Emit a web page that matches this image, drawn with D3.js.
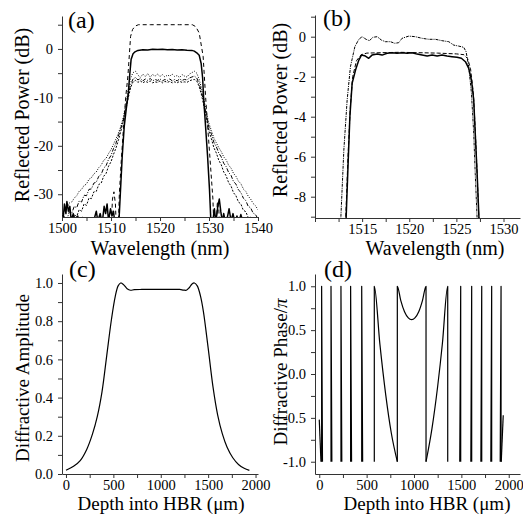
<!DOCTYPE html>
<meta charset="utf-8">
<style>
body { margin: 0; background: #fff; }
svg { display: block; }
.domain, .tick line { stroke: #333; }
</style>
<body>
<script src="https://d3js.org/d3.v7.min.js"></script>
<script>

// ---- (a) reflected power vs wavelength ----
// dashed: design spectrum
var lamSim = [1509.9, 1510.3, 1510.6, 1510.9, 1511.2, 1511.4, 1511.7, 1512.1, 1512.5, 1513.0, 1513.45, 1514.0, 1514.4, 1514.9, 1515.6,
  1518, 1521, 1524, 1526.6, 1527.3, 1528.0, 1528.8, 1529.3, 1529.8, 1530.3, 1530.8, 1531.1, 1531.4, 1531.7, 1532.0, 1532.3];
var dbSim = [-40, -31, -29.5, -32, -40, -40, -30, -23, -17, -10, -5.6, 2.6, 4.0, 4.7, 5.0,
  5.0, 5.0, 5.0, 5.0, 4.6, 3.3, -1.5, -9.8, -17, -24, -31, -40, -40, -31.5, -33, -40];

// solid: measured grating
var lamSolid = [1500.2, 1500.5, 1500.8, 1501.0, 1501.3, 1501.6, 1501.9, 1502.3, 1502.7, 1503.2, 1503.6, 1504.2, 1504.8, 1505.4, 1506, 1506.6,
  1507.0, 1507.3, 1507.8, 1508.2, 1508.6, 1508.9, 1509.2, 1509.5, 1509.9, 1510.2, 1510.5, 1510.8, 1511.2, 1511.6, 1511.9, 1512.3,
  1512.7, 1513.1, 1513.5, 1513.8, 1514.1, 1514.5, 1514.9, 1515.5, 1516.5, 1517.5, 1518.5, 1519.5, 1520.5, 1521.5, 1522.5, 1523.5,
  1524.5, 1525.5, 1526.5, 1527.0, 1527.5, 1528.0, 1528.4, 1528.7, 1528.9, 1529.3, 1529.7, 1530.1, 1530.4, 1530.8, 1531.1, 1531.4,
  1531.8, 1532.1, 1532.4, 1532.7, 1533.0, 1533.4, 1533.8, 1534.1, 1534.5, 1534.9, 1535.3, 1535.7, 1536.1, 1536.5, 1537, 1537.5,
  1538, 1538.5, 1539, 1539.5, 1540];
var dbSolid = [-35.5, -32, -34, -31.5, -33.5, -32.5, -35.5, -34, -35.5, -34.5, -36, -34.8, -36, -35.2, -36, -35,
  -33.5, -35.5, -34, -36, -32.5, -34, -32, -35.5, -33, -34.5, -33.5, -36, -35.5, -36, -30, -22,
  -16, -12.5, -9.5, -5.6, -2.2, -1.0, -0.6, -0.3, -0.15, -0.2, -0.05, -0.1, -0.05, -0.15, -0.1, -0.2,
  -0.15, -0.25, -0.3, -0.45, -0.8, -1.3, -3.0, -6, -10, -16, -22, -29, -36, -35.5, -33, -35.8,
  -32.5, -31, -33.5, -35.6, -34, -36, -34.5, -33, -35.5, -34, -36, -34.5, -35.8, -34.2, -36, -35,
  -36, -34.8, -36, -35.2, -36];

// dotted family: repeated measurements (shared wavelength grid)
var lamMeas = [1500, 1500.5, 1501, 1501.5, 1502, 1502.5, 1503, 1503.5, 1504, 1504.5, 1505, 1505.5, 1506, 1506.5, 1507, 1507.5,
  1508, 1508.5, 1509, 1509.5, 1510, 1510.5, 1511, 1511.5, 1512, 1512.5, 1513, 1513.5, 1514, 1514.5, 1515, 1515.5,
  1516, 1516.5, 1517, 1517.5, 1518, 1518.5, 1519, 1519.5, 1520, 1520.5, 1521, 1521.5, 1522, 1522.5, 1523, 1523.5,
  1524, 1524.5, 1525, 1525.5, 1526, 1526.5, 1527, 1527.5, 1528, 1528.5, 1529, 1529.5, 1530, 1530.5, 1531, 1531.5,
  1532, 1532.5, 1533, 1533.5, 1534, 1534.5, 1535, 1535.5, 1536, 1536.5, 1537, 1537.5, 1538, 1538.5, 1539, 1539.5, 1540];
var dbMeas1 = [-34.5, -33.4, -33.0, -31.8, -31.6, -30.8, -30.3, -29.4, -29.0, -28.2, -27.9, -26.9, -26.6, -25.8, -25.4, -24.5,
  -24.0, -23.0, -22.6, -21.6, -20.8, -19.7, -18.6, -17.4, -16.0, -14.2, -11.5, -8.6, -6.0, -4.9, -4.6, -5.4,
  -5.9, -5.2, -5.7, -5.1, -5.8, -5.3, -5.6, -5.2, -5.7, -5.3, -5.8, -5.4, -5.6, -5.2, -5.7, -5.5,
  -5.9, -5.3, -5.6, -5.8, -5.2, -4.9, -4.6, -5.0, -6.3, -8.2, -10.6, -13.2, -15.4, -16.9, -18.4, -19.4,
  -20.4, -21.2, -22.3, -22.9, -24.0, -24.6, -25.7, -26.3, -27.3, -27.8, -28.9, -29.4, -30.4, -31.0, -31.9, -32.4, -33.2];
var dbMeas2 = [-35.8, -34.6, -35.2, -33.6, -33.9, -32.5, -32.8, -31.4, -31.6, -30.2, -30.3, -29.0, -28.9, -27.7, -27.5, -26.3,
  -25.9, -24.6, -24.1, -22.8, -22.0, -20.6, -19.5, -18.0, -16.4, -14.6, -12.2, -9.6, -7.4, -6.2, -5.9, -6.4,
  -6.1, -6.6, -6.2, -6.5, -6.1, -6.6, -6.3, -6.5, -6.2, -6.6, -6.3, -6.5, -6.2, -6.6, -6.3, -6.6,
  -6.2, -6.5, -6.3, -6.4, -6.0, -5.8, -5.6, -6.0, -7.2, -9.0, -11.4, -13.9, -16.2, -17.6, -19.3, -20.2,
  -21.5, -22.3, -23.6, -24.3, -25.5, -26.1, -27.4, -27.9, -29.1, -29.6, -30.8, -31.3, -32.5, -32.8, -33.9, -34.2, -35.1];
var dbMeas3 = [-36, -35.5, -36, -35.0, -35.6, -34.2, -34.6, -33.2, -33.5, -32.0, -32.3, -30.8, -30.9, -29.5, -29.4, -28.0,
  -27.7, -26.3, -25.7, -24.2, -23.3, -21.8, -20.5, -18.9, -17.0, -15.0, -12.6, -10.2, -8.0, -6.8, -6.5, -6.9,
  -6.6, -7.0, -6.7, -6.9, -6.6, -7.0, -6.8, -6.9, -6.6, -7.0, -6.7, -6.9, -6.7, -7.0, -6.8, -7.0,
  -6.7, -6.9, -6.8, -6.9, -6.6, -6.4, -6.3, -6.6, -7.8, -9.6, -12.0, -14.5, -17.0, -18.6, -20.4, -21.5,
  -23.0, -23.9, -25.4, -26.2, -27.6, -28.3, -29.7, -30.3, -31.6, -32.0, -33.3, -33.6, -34.8, -35.0, -35.9, -35.6, -36.2];

// ---- (b) close-up of the pass band ----
var lamBDot = [1512.65, 1512.74, 1513.06, 1513.41, 1513.76, 1514.23, 1514.65, 1515.0, 1515.42, 1515.78, 1516.13, 1516.6, 1517.05,
  1517.47, 1518.0, 1518.46, 1518.88, 1519.24, 1519.95, 1520.65, 1521.36, 1522.07, 1522.78, 1523.48, 1524.19, 1524.72,
  1525.25, 1525.78, 1526.03, 1526.31, 1526.6, 1526.84, 1527.0, 1527.2, 1527.25];
var dbBDot = [-10.5, -9.08, -5.67, -3.17, -1.5, -0.5, -0.13, 0, -0.13, -0.2, -0.03, 0, -0.17,
  -0.25, -0.25, -0.33, -0.3, -0.08, 0.03, 0, -0.08, -0.13, -0.13, -0.2, -0.25, -0.42,
  -0.47, -0.53, -0.75, -1.5, -2.83, -4.83, -6.83, -9.1, -10.5];
var lamBDash = [1513.15, 1513.5, 1513.75, 1514.0, 1514.4, 1514.9, 1515.5, 1517, 1519, 1521, 1523, 1525, 1525.8, 1526.2,
  1526.5, 1526.8, 1527.0, 1527.2, 1527.5];
var dbBDash = [-10.5, -6, -3.5, -2.0, -1.2, -0.9, -0.82, -0.8, -0.78, -0.8, -0.82, -0.86, -0.9, -1.1,
  -1.6, -2.8, -4.6, -6.8, -10.5];
var lamBSolid = [1513.25, 1513.3, 1513.5, 1513.7, 1513.94, 1514.3, 1514.65, 1514.93, 1515.35, 1515.7, 1516.05, 1516.6, 1517.12,
  1517.65, 1518.18, 1518.7, 1519.24, 1519.77, 1520.3, 1520.83, 1521.36, 1521.9, 1522.43, 1522.96, 1523.48, 1524.01,
  1524.54, 1525.07, 1525.53, 1525.96, 1526.31, 1526.6, 1526.84, 1527.0, 1527.2, 1527.4, 1527.45];
var dbBSolid = [-10.5, -9.08, -6.5, -4.0, -2.33, -1.67, -1.17, -0.92, -0.97, -1.08, -0.92, -0.87, -0.92,
  -0.83, -0.8, -0.83, -0.8, -0.83, -0.8, -0.87, -0.92, -0.97, -0.92, -0.97, -0.92, -0.97,
  -1.0, -1.03, -1.08, -1.25, -1.58, -2.17, -3.17, -4.83, -6.83, -9.1, -10.5];

// ---- (c) diffractive amplitude vs depth ----
var depthC = [0, 80, 150, 220, 280, 330, 380, 430, 480, 520, 550, 577, 610, 645, 680, 720, 800, 900, 1000, 1100,
  1200, 1240, 1270, 1300, 1330, 1355, 1385, 1420, 1450, 1500, 1550, 1600, 1650, 1700, 1760, 1820, 1880, 1935];
var ampC = [0.02, 0.04, 0.07, 0.13, 0.21, 0.30, 0.43, 0.62, 0.81, 0.93, 0.985, 1.0, 0.99, 0.97, 0.962, 0.965, 0.966, 0.966, 0.966, 0.966,
  0.966, 0.963, 0.962, 0.975, 0.995, 1.0, 0.985, 0.93, 0.85, 0.66, 0.46, 0.31, 0.21, 0.14, 0.085, 0.05, 0.03, 0.019];

// ---- (d) diffractive phase / pi, wrapped, one array per drawn piece ----
var phasePieces = [
  [[0, -0.52], [18, -1]],
  [[25, -1], [25, 1], [34, -1]],
  [[124, -1], [124, 1], [133, -1]],
  [[229, -1], [229, 1], [238, -1]],
  [[331, -1], [331, 1], [341, -1]],
  [[448, -1], [448, 1], [458, -1]],
  [[581, -1], [581, 1], [640, 0.34], [702, -0.24], [760, -0.67], [824, -1]],
  [[824, -1], [824, 1], [860, 0.84], [900, 0.71], [940, 0.64], [975, 0.62], [1010, 0.64], [1050, 0.71], [1090, 0.84], [1127, 1], [1127, -1]],
  [[1127, -1], [1190, -0.62], [1250, -0.14], [1300, 0.35], [1356, 1], [1356, -1]],
  [[1483, -1], [1493, 1], [1493, -1]],
  [[1600, -1], [1609, 1], [1609, -1]],
  [[1706, -1], [1715, 1], [1715, -1]],
  [[1811, -1], [1820, 1], [1820, -1]],
  [[1910, -1], [1919, 1], [1919, -1]],
  [[1921, -1], [1942, -0.47]]
];

var SERIF = "'Liberation Serif', 'Times New Roman', serif";

var svg = d3.select("body").append("svg")
  .attr("width", 523)
  .attr("height", 521)
  .style("font-family", SERIF);

function fmtInt(d) { return String(d); }
function fmt1(d) { return d.toFixed(1); }

function styleText(sel, size) {
  sel.attr("font-family", null).attr("font-size", null)
    .style("font-family", SERIF)
    .style("font-size", size + "px")
    .style("fill", "#000");
}

function panel(cfg) {
  var x = d3.scaleLinear().domain(cfg.xDom).range(cfg.xRange);
  var y = d3.scaleLinear().domain(cfg.yDom).range(cfg.yRange);
  var g = svg.append("g");
  var yb = cfg.yRange[0], xl = cfg.xRange[0];

  svg.append("clipPath").attr("id", "clip-" + cfg.name)
    .append("rect")
    .attr("x", xl).attr("y", cfg.yRange[1])
    .attr("width", cfg.xRange[1] - xl)
    .attr("height", yb - cfg.yRange[1]);

  // minor ticks + axis line, then labelled ticks
  g.append("g").attr("transform", "translate(0," + yb + ")")
    .call(d3.axisBottom(x).tickValues(cfg.xMinor).tickFormat("").tickSize(4).tickSizeOuter(0));
  g.append("g").attr("transform", "translate(0," + yb + ")")
    .call(d3.axisBottom(x).tickValues(cfg.xMajor).tickFormat(cfg.xFmt).tickSize(4).tickPadding(2).tickSizeOuter(0))
    .call(function(a) { a.select(".domain").remove(); });
  g.append("g").attr("transform", "translate(" + xl + ",0)")
    .call(d3.axisLeft(y).tickValues(cfg.yMinor).tickFormat("").tickSize(4).tickSizeOuter(0));
  g.append("g").attr("transform", "translate(" + xl + ",0)")
    .call(d3.axisLeft(y).tickValues(cfg.yMajor).tickFormat(cfg.yFmt).tickSize(4).tickPadding(5).tickSizeOuter(0))
    .call(function(a) { a.select(".domain").remove(); });
  g.selectAll("g").attr("font-family", null).attr("font-size", null);
  styleText(g.selectAll(".tick text"), 14.5);

  var ts = cfg.titleSize || 19;
  styleText(g.append("text")
    .attr("text-anchor", "middle")
    .attr("x", cfg.xTitlePos[0]).attr("y", cfg.xTitlePos[1])
    .text(cfg.xTitle), ts);
  var yt = g.append("text")
    .attr("text-anchor", "middle")
    .attr("transform", "translate(" + cfg.yTitlePos[0] + "," + cfg.yTitlePos[1] + ") rotate(-90)")
    .text(cfg.yTitle);
  styleText(yt, ts);
  if (cfg.yTitlePi) {
    yt.append("tspan").style("font-style", "italic").text("\u03c0");
  }
  styleText(g.append("text")
    .attr("x", cfg.letterPos[0]).attr("y", cfg.letterPos[1])
    .text(cfg.letter), 24);

  var plot = g.append("g").attr("clip-path", "url(#clip-" + cfg.name + ")");
  var line = d3.line().x(function(d) { return x(d[0]); }).y(function(d) { return y(d[1]); });
  return { x: x, y: y, plot: plot, line: line };
}

function addLine(p, data, width, dash, curve) {
  var l = p.line;
  if (curve) l = d3.line().x(p.line.x()).y(p.line.y()).curve(curve);
  p.plot.append("path")
    .datum(data)
    .attr("fill", "none")
    .attr("stroke", "#000")
    .attr("stroke-width", width)
    .attr("stroke-dasharray", dash)
    .attr("stroke-linejoin", "round")
    .attr("d", l);
}

/* ------- (a) ------- */
var pa = panel({
  name: "a", letter: "(a)", letterPos: [68, 28], titleSize: 20,
  xDom: [1500, 1540], xRange: [62, 258],
  yDom: [-34.7, 6.8], yRange: [217, 16],
  xMajor: [1500, 1510, 1520, 1530, 1540], xMinor: [1505, 1515, 1525, 1535],
  yMajor: [0, -10, -20, -30], yMinor: [5, -5, -15, -25],
  xFmt: fmtInt, yFmt: fmtInt,
  xTitle: "Wavelength (nm)", xTitlePos: [160, 255],
  yTitle: "Reflected Power (dB)", yTitlePos: [29, 115]
});
addLine(pa, d3.zip(lamMeas, dbMeas3), 1, "2,1.5");
addLine(pa, d3.zip(lamMeas, dbMeas2), 1, "4,1.5,1,1.5");
addLine(pa, d3.zip(lamMeas, dbMeas1), 1, "1,1.5");
addLine(pa, d3.zip(lamSim, dbSim), 1, "4,3");
addLine(pa, d3.zip(lamSolid, dbSolid), 1.5, null);

/* ------- (b) ------- */
var pb = panel({
  name: "b", letter: "(b)", letterPos: [323, 26], titleSize: 20,
  xDom: [1510, 1531.75], xRange: [315, 520],
  yDom: [-9.065, 1.085], yRange: [218, 15],
  xMajor: [1515, 1520, 1525, 1530], xMinor: [1510, 1512.5, 1517.5, 1522.5, 1527.5],
  yMajor: [0, -2, -4, -6, -8], yMinor: [1, -1, -3, -5, -7, -9],
  xFmt: fmtInt, yFmt: fmtInt,
  xTitle: "Wavelength (nm)", xTitlePos: [435, 255],
  yTitle: "Reflected Power (dB)", yTitlePos: [287, 110]
});
addLine(pb, d3.zip(lamBDot, dbBDot), 1, "3,1,1,1");
addLine(pb, d3.zip(lamBDash, dbBDash), 1, "4,2");
addLine(pb, d3.zip(lamBSolid, dbBSolid), 1.5, null);

/* ------- (c) ------- */
var pc = panel({
  name: "c", letter: "(c)", letterPos: [69, 277],
  xDom: [-42, 2026], xRange: [62, 258],
  yDom: [0, 1.047], yRange: [474, 274],
  xMajor: [0, 500, 1000, 1500, 2000], xMinor: [250, 750, 1250, 1750],
  yMajor: [0, 0.2, 0.4, 0.6, 0.8, 1.0], yMinor: [0.1, 0.3, 0.5, 0.7, 0.9],
  xFmt: fmtInt, yFmt: fmt1,
  xTitle: "Depth into HBR (\u03bcm)", xTitlePos: [161, 510],
  yTitle: "Diffractive Amplitude", yTitlePos: [29, 378]
});
addLine(pc, d3.zip(depthC, ampC), 1.2, null, d3.curveCatmullRom);

/* ------- (d) ------- */
var pd = panel({
  name: "d", letter: "(d)", letterPos: [324, 277],
  xDom: [-45, 2119], xRange: [315, 520],
  yDom: [-1.14, 1.14], yRange: [474, 274],
  xMajor: [0, 500, 1000, 1500, 2000], xMinor: [250, 750, 1250, 1750],
  yMajor: [-1.0, -0.5, 0, 0.5, 1.0], yMinor: [-0.75, -0.25, 0.25, 0.75],
  xFmt: fmtInt, yFmt: fmt1,
  xTitle: "Depth into HBR (\u03bcm)", xTitlePos: [427, 510],
  yTitle: "Diffractive Phase/", yTitlePi: true, yTitlePos: [287, 372]
});
phasePieces.forEach(function(piece) {
  addLine(pd, piece, 1.2, null, piece.length > 4 ? d3.curveMonotoneX : null);
});

</script>
</body>
